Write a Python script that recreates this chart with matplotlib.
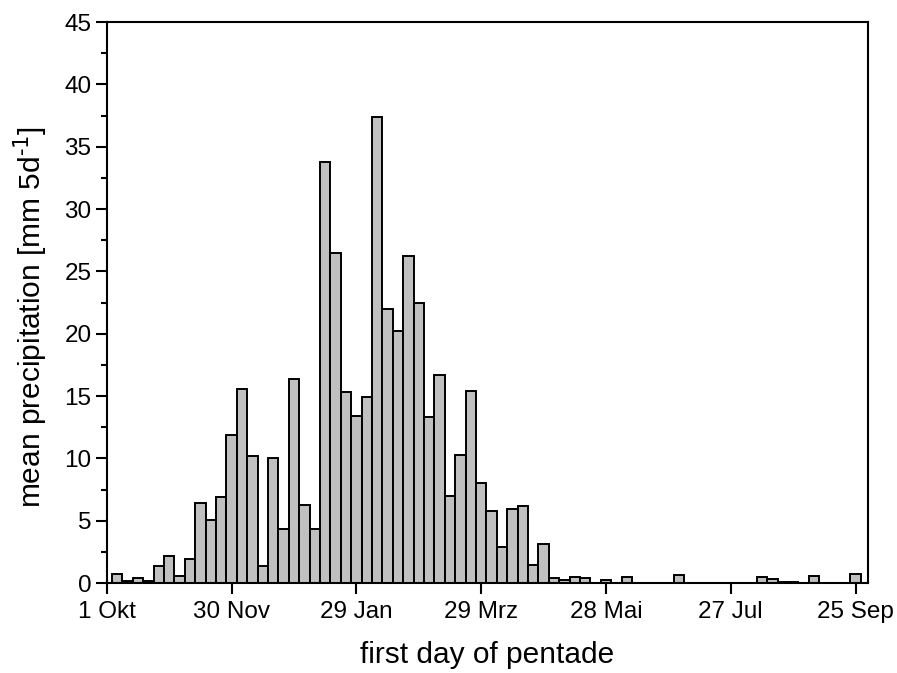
import matplotlib
matplotlib.use("Agg")
import matplotlib.pyplot as plt
from matplotlib.ticker import MultipleLocator

plt.rcParams['font.family'] = ['Liberation Sans', 'DejaVu Sans']
plt.rcParams['mathtext.default'] = 'regular'

# pentade number (1..73), starting 1 Okt
pentade = list(range(1, 74))
precip = [0.7, 0.15, 0.4, 0.15, 1.35, 2.2, 0.55, 1.95, 6.4, 5.05,
          6.9, 11.85, 15.55, 10.2, 1.35, 10.05, 4.35, 16.35, 6.25, 4.35,
          33.75, 26.45, 15.35, 13.4, 14.9, 37.4, 22.0, 20.2, 26.2, 22.45,
          13.3, 16.7, 6.95, 10.25, 15.4, 8.0, 5.75, 2.9, 5.9, 6.15,
          1.48, 3.1, 0.37, 0.22, 0.45, 0.4, 0.0, 0.22, 0.0, 0.48,
          0.0, 0.0, 0.0, 0.0, 0.67, 0.0, 0.02, 0.02, 0.0, 0.0,
          0.0, 0.0, 0.5, 0.32, 0.05, 0.1, 0.0, 0.6, 0.02, 0.0,
          0.02, 0.75, 0.0]
tick_pos = [0, 12, 24, 36, 48, 60, 72]
tick_labels = ['1 Okt', '30 Nov', '29 Jan', '29 Mrz', '28 Mai', '27 Jul', '25 Sep']

fig = plt.figure(figsize=(8.97, 6.73), dpi=100)
ax = fig.add_axes([0.119, 0.1337, 0.8487, 0.8336])

ax.bar(pentade, precip, width=1.0, color='#c0c0c0', edgecolor='black', linewidth=1.4)

ax.set_xlim(0, 73.2)
ax.set_ylim(0, 45)
ax.set_xticks(tick_pos)
ax.set_xticklabels(tick_labels)
ax.yaxis.set_major_locator(MultipleLocator(5))
ax.yaxis.set_minor_locator(MultipleLocator(2.5))

ax.tick_params(axis='both', which='major', direction='out', length=8, width=1.5,
               labelsize=17.5, top=False, right=False)
ax.tick_params(axis='x', which='major', pad=5)
ax.tick_params(axis='y', which='major', pad=3)
ax.tick_params(axis='y', which='minor', direction='out', length=4, width=1.5, right=False)
for s in ax.spines.values():
    s.set_linewidth(1.5)

ax.set_xlabel('first day of pentade', fontsize=21.5, labelpad=13)
ax.set_ylabel(r'mean precipitation [mm 5d$^{\text{-1}}$]', fontsize=21.5, labelpad=10)
ax.yaxis.set_label_coords(-0.076, 0.475)

fig.savefig('out.png', dpi=100)
